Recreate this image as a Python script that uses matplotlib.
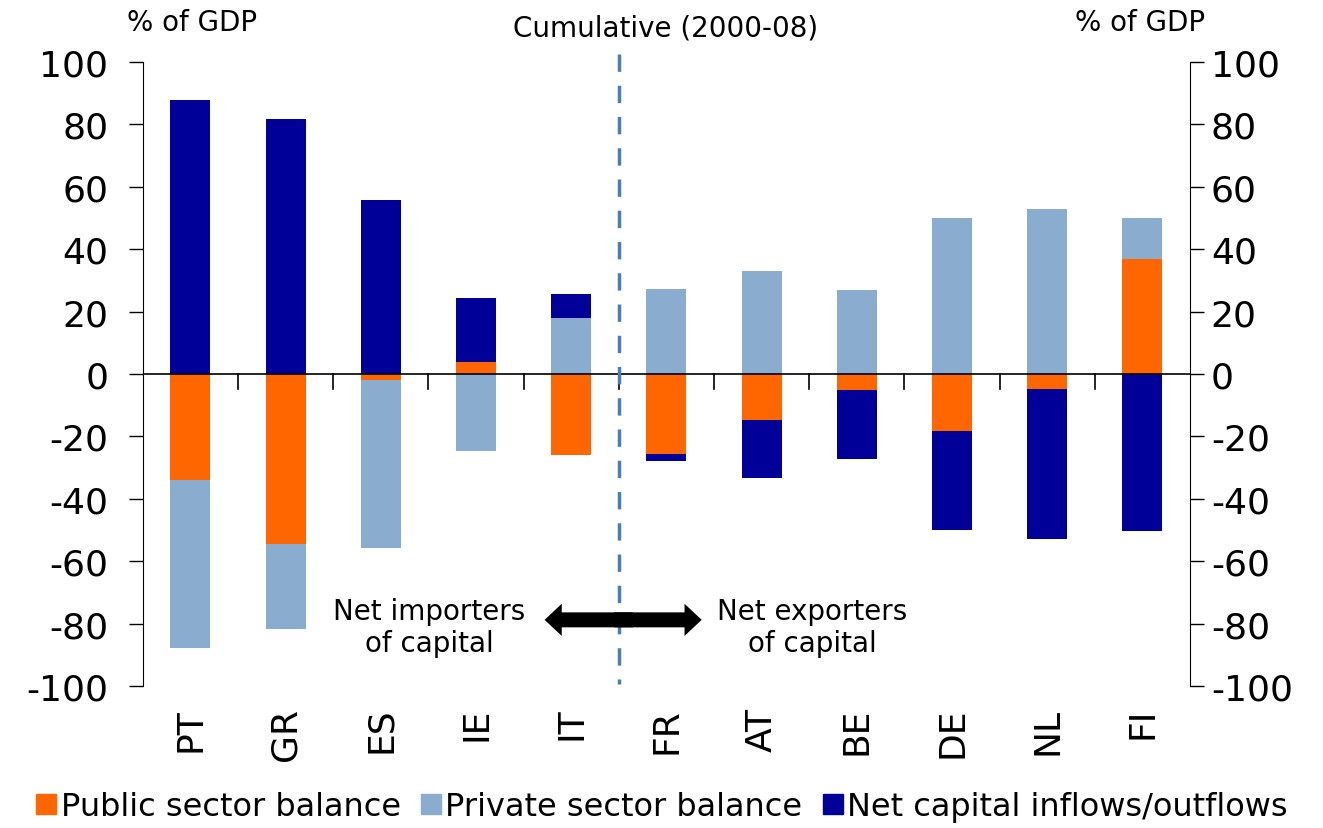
import numpy as np
import matplotlib.pyplot as plt
from matplotlib.lines import Line2D
from matplotlib.patches import FancyArrow

plt.rcParams['axes.unicode_minus'] = False

countries = ['PT', 'GR', 'ES', 'IE', 'IT', 'FR', 'AT', 'BE', 'DE', 'NL', 'FI']
public = [-34.0, -54.5, -1.9, 3.7, -26.0, -25.8, -14.9, -5.1, -18.2, -4.7, 36.9]
private = [-53.8, -27.2, -54.0, -24.6, 17.9, 27.2, 33.0, 26.9, 50.0, 53.0, 13.1]
net_capital = [87.8, 81.7, 55.9, 20.7, 7.7, -2.0, -18.3, -22.3, -31.8, -48.2, -50.4]
yticks = np.arange(-100, 101, 20)

series = [('Public sector balance', public, '#FF6600'),
          ('Private sector balance', private, '#8AACCF'),
          ('Net capital inflows/outflows', net_capital, '#000099')]

fig = plt.figure(figsize=(13.23, 8.29), dpi=100)
ax = fig.add_axes([0.108, 0.1713, 0.7915, 0.7527])
x = np.arange(len(countries))

pos_base = np.zeros(len(countries))
neg_base = np.zeros(len(countries))
for name, vals, col in series:
    v = np.array(vals)
    base = np.where(v >= 0, pos_base, neg_base)
    ax.bar(x, v, 0.42, bottom=base, color=col, edgecolor='none', zorder=2)
    pos_base = pos_base + np.where(v >= 0, v, 0)
    neg_base = neg_base + np.where(v < 0, v, 0)

ax.set_xlim(-0.5, len(countries) - 0.5)
ax.set_ylim(-100, 100)
ax.axhline(0, color='black', lw=1.2, zorder=3)

# category separators on the zero line
for b in np.arange(0.5, len(countries) - 0.5, 1):
    ax.plot([b, b], [0, -4.8], color='black', lw=1.2, zorder=3, clip_on=False)

ax.set_xticks(x)
ax.set_xticklabels(countries, rotation=90, fontsize=26)
ax.tick_params(axis='x', length=0, pad=15)
ax.set_yticks(yticks)
ax.tick_params(axis='y', labelsize=26, length=10, width=1, direction='out', pad=15)
for s in ['top', 'bottom', 'right']:
    ax.spines[s].set_visible(False)

ax2 = ax.twinx()
ax2.set_ylim(-100, 100)
ax2.set_yticks(yticks)
ax2.tick_params(axis='y', labelsize=26, length=10, width=1, direction='out', pad=5)
for s in ['top', 'bottom', 'left']:
    ax2.spines[s].set_visible(False)

# dashed divider
ax.plot([4.5, 4.5], [102.5, -99.5], color='#4A7EBB', lw=2.5,
        dashes=(5, 4), clip_on=False, zorder=4)

# double-headed arrow
y_arr = -78.8
for start, end in ((4.65, 3.72), (4.45, 5.37)):
    ax.add_patch(FancyArrow(start, y_arr, end - start, 0, width=4.8, head_width=10.3,
                            head_length=0.18, length_includes_head=True,
                            color='black', lw=0, zorder=5))
ax.text(2.51, -81, 'Net importers\nof capital', ha='center', va='center',
        fontsize=20, linespacing=1.2)
ax.text(6.53, -81, 'Net exporters\nof capital', ha='center', va='center',
        fontsize=20, linespacing=1.2)

fig.text(0.145, 0.972, '% of GDP', ha='center', va='center', fontsize=20)
fig.text(0.862, 0.972, '% of GDP', ha='center', va='center', fontsize=20)
fig.text(0.503, 0.966, 'Cumulative (2000-08)', ha='center', va='center', fontsize=20)

handles = [Line2D([], [], marker='s', ls='none', color=c, markersize=15)
           for _, _, c in series]
fig.legend(handles, [n for n, _, _ in series], loc='center', ncol=3,
           bbox_to_anchor=(0.5, 0.026), frameon=False, fontsize=23,
           handletextpad=0.1, columnspacing=0.6, handlelength=0.7)

fig.savefig('out.png', dpi=100)
